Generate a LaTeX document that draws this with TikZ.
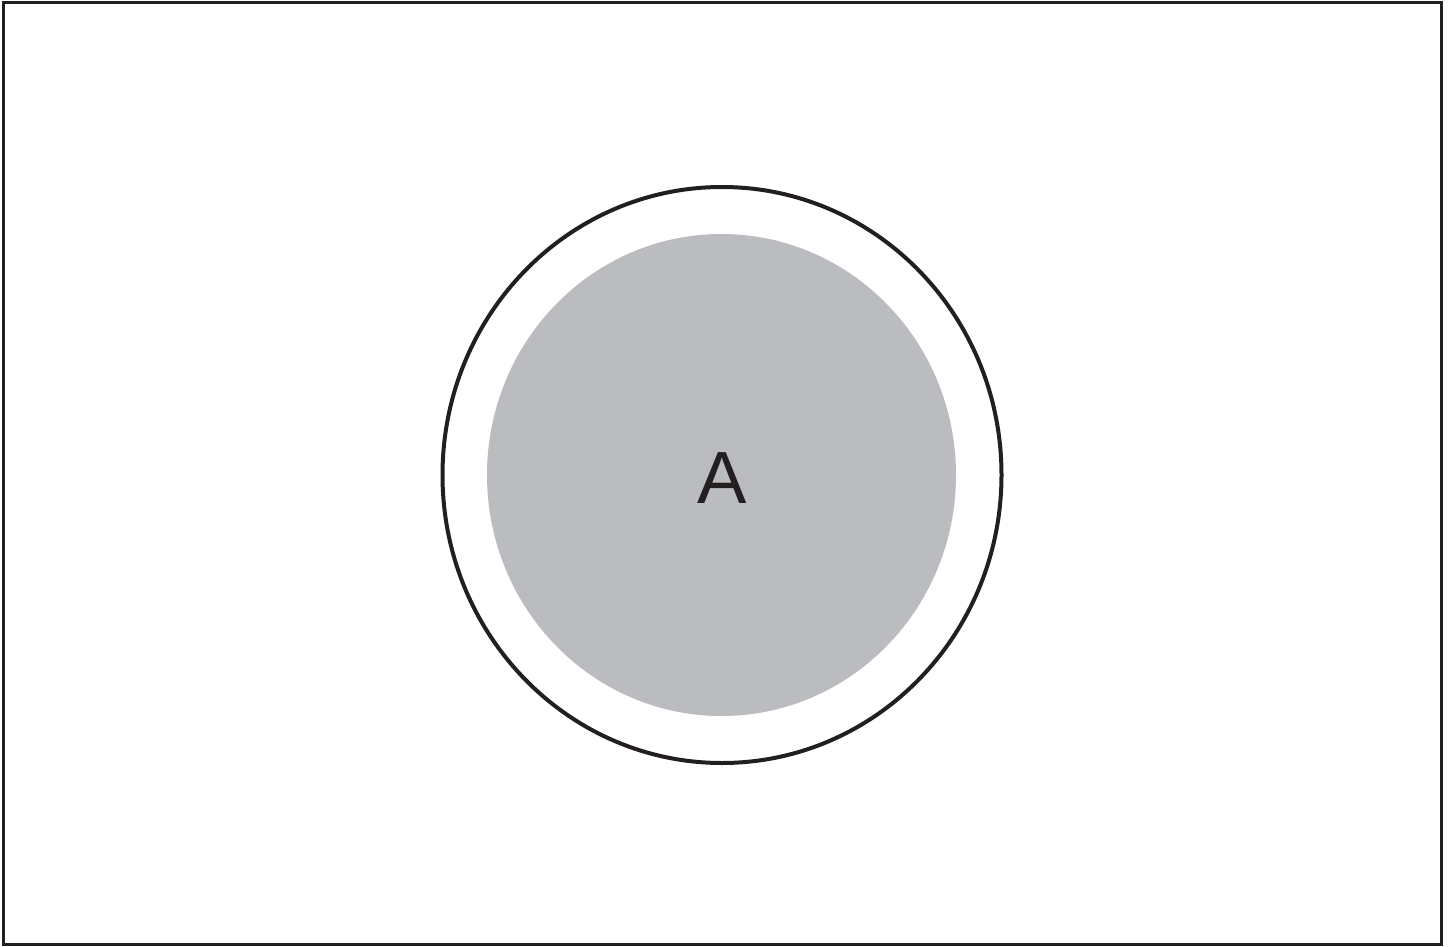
\documentclass[tikz,border=0pt]{standalone}
\usepackage{fontspec}
\setmainfont{Liberation Sans}
\definecolor{fillgray}{HTML}{BBBCBF}
\definecolor{ink}{HTML}{231F20}
\begin{document}
\begin{tikzpicture}[x=1pt,y=-1pt,
  frame/.style={draw=ink,line width=3pt},
  outerring/.style={draw=ink,line width=4pt},
  innerdisk/.style={fill=fillgray,draw=none}]
\useasboundingbox (0,0) rectangle (1448,947);
\draw[frame] (3,3) rectangle (1441,944);
\draw[outerring] (722,475) ellipse [x radius=279.5, y radius=288];
\fill[innerdisk] (721.5,475) ellipse [x radius=234.5, y radius=241];
\node[text=ink,font=\fontsize{74}{80}\selectfont,inner sep=0pt] (A) at (722,478) {A};
\end{tikzpicture}
\end{document}
